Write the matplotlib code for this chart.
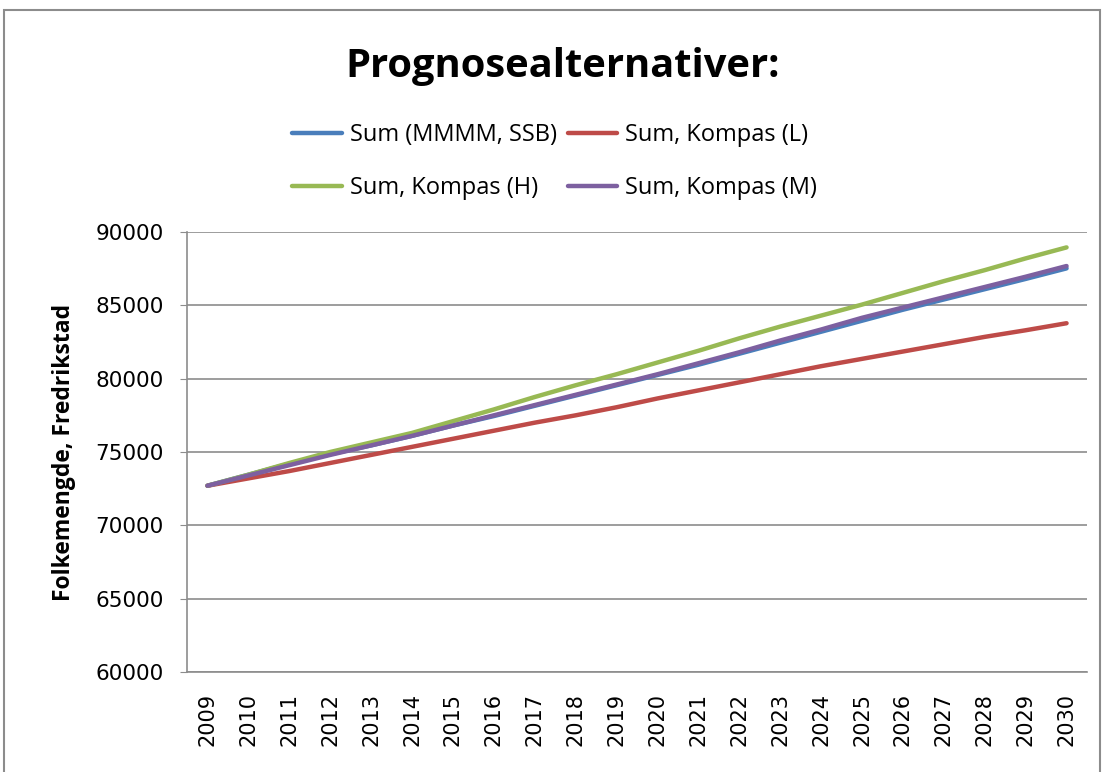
import matplotlib
matplotlib.use("Agg")
import matplotlib.pyplot as plt
from matplotlib.patches import Rectangle

years = list(range(2009, 2031))
ssb = [72700, 73450, 74200, 74850, 75450, 76100, 76800, 77450, 78150, 78850, 79550,
       80250, 80950, 81700, 82450, 83200, 83950, 84700, 85400, 86100, 86800, 87520]
kompas_l = [72700, 73200, 73700, 74250, 74800, 75350, 75900, 76450, 77000, 77500, 78050,
            78650, 79200, 79750, 80300, 80850, 81350, 81850, 82350, 82850, 83300, 83780]
kompas_h = [72700, 73450, 74250, 75000, 75650, 76300, 77100, 77900, 78750, 79550, 80300,
            81100, 81900, 82750, 83550, 84300, 85050, 85850, 86650, 87400, 88200, 88950]
kompas_m = [72700, 73400, 74100, 74800, 75450, 76100, 76800, 77500, 78200, 78900, 79600,
            80300, 81050, 81800, 82600, 83350, 84150, 84850, 85550, 86250, 86950, 87680]

labels = ["Sum (MMMM, SSB)", "Sum, Kompas (L)", "Sum, Kompas (H)", "Sum, Kompas (M)"]
colors = ["#4A7EBB", "#BE4B48", "#98B954", "#7D60A0"]
yticks = [60000, 65000, 70000, 75000, 80000, 85000, 90000]

plt.rcParams['font.family'] = ['Open Sans', 'DejaVu Sans']

W, H = 1105, 772
fig = plt.figure(figsize=(W / 100, H / 100), dpi=100)
fig.patches.append(Rectangle((4 / W, -0.01), (1100 - 4) / W, 1 - 10 / H + 0.01,
                             transform=fig.transFigure, fill=False,
                             edgecolor="#8C8C8C", lw=1.5))

ax = fig.add_axes([187 / W, 1 - 672 / H, (1087 - 187) / W, (672 - 232) / H])
x = list(range(len(years)))
handles = []
for series, lab, col in zip([ssb, kompas_l, kompas_h, kompas_m], labels, colors):
    h, = ax.plot(x, series, color=col, lw=3.2, solid_capstyle="round",
                 solid_joinstyle="round", label=lab)
    handles.append(h)

ax.set_xlim(-0.5, len(years) - 0.5)
ax.set_ylim(60000, 90000)
ax.set_yticks(yticks)
ax.set_yticklabels([str(v) for v in yticks], fontsize=15.5, family="DejaVu Sans")
ax.set_xticks(x)
ax.set_xticklabels([str(y) for y in years], rotation=90, fontsize=15, family="DejaVu Sans")
ax.tick_params(axis="y", length=5, color="#8C8C8C", pad=12)
ax.tick_params(axis="x", length=0, pad=15)
ax.grid(axis="y", color="#8C8C8C", lw=1.2)
ax.set_axisbelow(True)
for s in ["top", "right"]:
    ax.spines[s].set_visible(False)
for s in ["left", "bottom"]:
    ax.spines[s].set_color("#8C8C8C")
    ax.spines[s].set_linewidth(1.2)

ax.set_ylabel("Folkemengde, Fredrikstad", fontsize=16.5, fontweight="bold", labelpad=14)

fig.text(563 / W, 1 - 66 / H, "Prognosealternativer:", fontsize=28.7, fontweight="bold",
         ha="center", va="center")

order = [0, 2, 1, 3]
fig.legend([handles[i] for i in order], [labels[i] for i in order], ncol=2,
           frameon=False, fontsize=17,
           loc="upper left", bbox_to_anchor=(283 / W, 1 - 114 / H),
           handlelength=2.1, handletextpad=0.34, columnspacing=0.45,
           labelspacing=1.2, borderaxespad=0)

fig.savefig("out.png", dpi=100)
